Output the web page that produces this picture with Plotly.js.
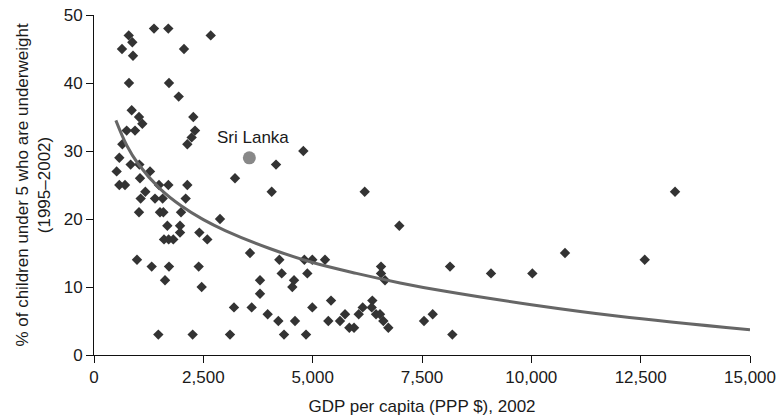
<!DOCTYPE html>
<html>
<head>
<meta charset="utf-8">
<script src="https://cdn.plot.ly/plotly-3.0.1.min.js"></script>
<style>html,body{margin:0;padding:0;background:#fff;}#chart{width:776px;height:419px;}</style>
</head>
<body>
<div id="chart"></div>
<script>
// Countries: GDP per capita (PPP $, 2002) and % children under 5 underweight
const gdp = [794,1372,1699,2669,876,640,2058,892,800,1715,1937,862,1029,1105,2271,747,938,2310,2233,2134,648,579,518,838,1037,1281,1052,579,709,1486,1700,2134,1174,1067,1395,1570,2096,1029,1509,1586,1990,2881,1677,1967,1967,2409,1601,1707,1813,2591,3567,4238,983,1319,1715,2394,4292,1624,3796,2462,3796,3201,3605,3971,4215,1471,2256,3110,4345,4810,4992,5282,4878,4574,4535,6563,6563,6654,8141,5420,4992,6364,6144,6350,5740,6053,6449,6540,4596,5358,5625,6616,7546,7745,5838,5946,6730,4848,8194,4787,6190,6981,13286,9078,10023,10770,12593,4162,4063,3224];
const underweight = [47,48,48,47,46,45,45,44,40,40,38,36,35,34,35,33,33,33,32,31,31,29,27,28,28,27,26,25,25,25,25,25,24,23,23,23,23,21,21,21,21,20,19,19,18,18,17,17,17,17,15,14,14,13,13,13,12,11,11,10,9,7,7,6,5,3,3,3,3,14,14,14,12,11,10,13,12,11,13,8,7,8,7,7,6,6,6,6,5,5,5,5,5,6,4,4,4,3,3,30,24,19,24,12,12,15,14,28,24,26];
// Highlighted country
const hlName = ["Sri Lanka"];
const hlGdp = [3552];
const hlUnder = [29];
// Trend curve
const trendX = [500,750,1000,1500,2000,2500,3000,4000,5000,6000,7000,8000,10000,12000,15000];
const trendY = [34.5,30.8,28.2,24.5,21.9,19.9,18.3,15.7,13.6,12.0,10.6,9.4,7.4,5.7,3.7];
const xTicks = [0,2500,5000,7500,10000,12500,15000];
const yTicks = [0,10,20,30,40,50];

const fam = "Liberation Sans, Arial, sans-serif";
const tickFont = {family: fam, size: 17, color: "#1a1a1a"};

const traces = [
  {x: gdp, y: underweight, type: "scatter", mode: "markers",
   marker: {symbol: "diamond", size: 8, color: "#333"}, hoverinfo: "x+y"},
  {x: trendX, y: trendY, type: "scatter", mode: "lines",
   line: {color: "#666", width: 3, shape: "spline"}, hoverinfo: "skip"},
  {x: hlGdp, y: hlUnder, type: "scatter", mode: "markers",
   marker: {symbol: "circle", size: 13, color: "#888"}}
];

const layout = {
  width: 776, height: 419,
  margin: {l: 94, r: 26, t: 15, b: 64},
  paper_bgcolor: "#fff", plot_bgcolor: "#fff",
  showlegend: false,
  font: tickFont,
  annotations: [{
    x: hlGdp[0], y: hlUnder[0], text: hlName[0], showarrow: false,
    xanchor: "center", yanchor: "bottom", xshift: 4, yshift: 9,
    font: {family: fam, size: 17, color: "#1a1a1a"}
  }],
  xaxis: {
    range: [0, 15000], tickvals: xTicks, tickformat: ",", showgrid: false, zeroline: false,
    showline: true, linecolor: "#111", linewidth: 1, ticks: "outside", ticklen: 7, tickcolor: "#111",
    tickfont: tickFont,
    title: {text: "GDP per capita (PPP $), 2002", font: {family: fam, size: 17, color: "#1a1a1a"}, standoff: 13}
  },
  yaxis: {
    range: [0, 50], tickvals: yTicks, showgrid: false, zeroline: false,
    showline: true, linecolor: "#111", linewidth: 1, ticks: "outside", ticklen: 7, tickcolor: "#111",
    tickfont: tickFont,
    title: {text: "% of children under 5 who are underweight<br>(1995–2002)", font: {family: fam, size: 17, color: "#1a1a1a"}, standoff: 8}
  }
};

Plotly.newPlot("chart", traces, layout, {displayModeBar: false, staticPlot: true});
</script>
</body>
</html>
